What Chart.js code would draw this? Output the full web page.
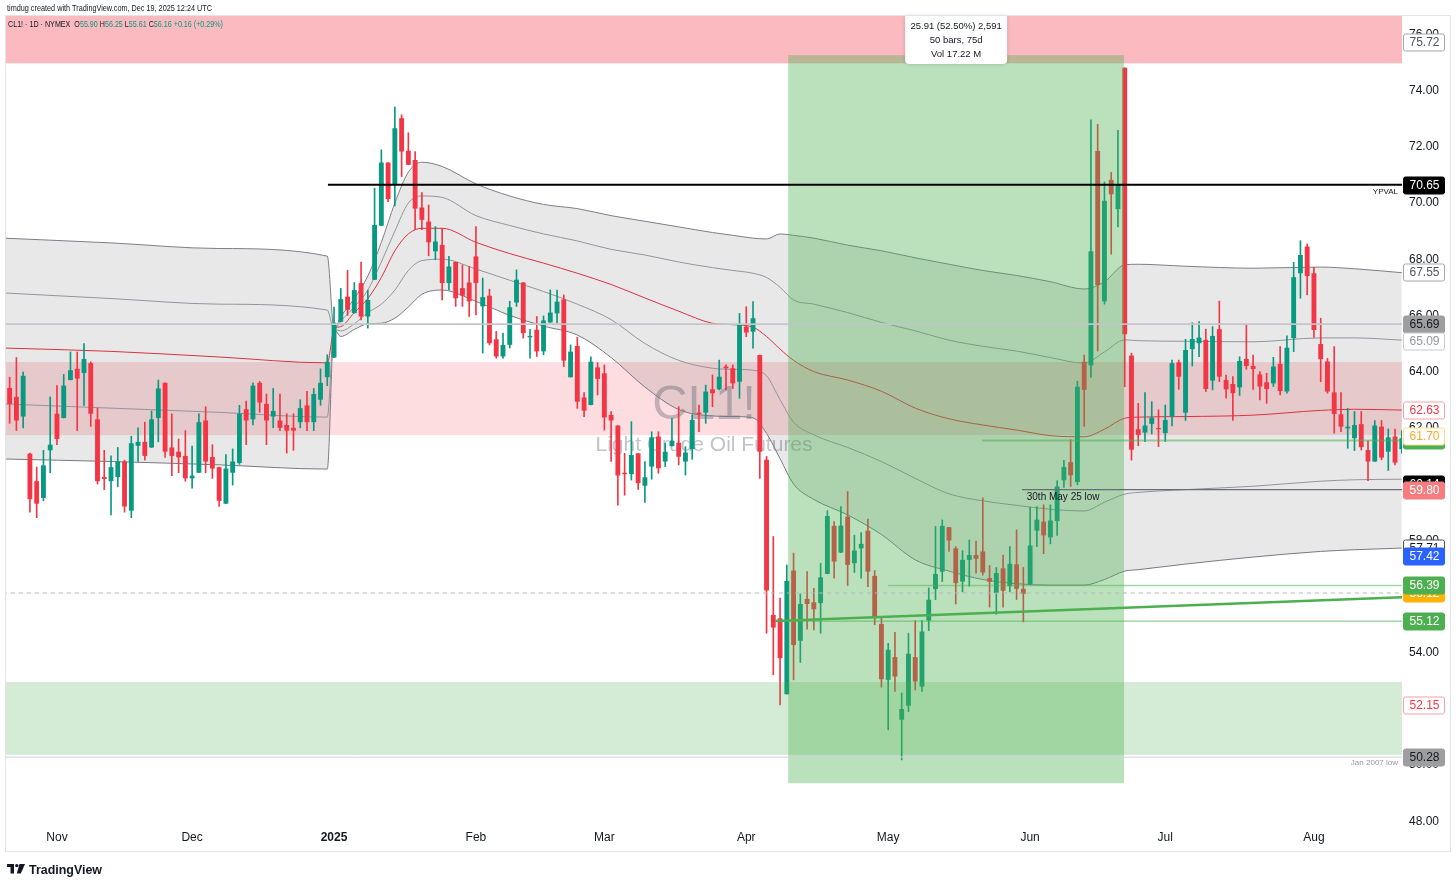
<!DOCTYPE html>
<html>
<head>
<meta charset="utf-8">
<title>CL1! daily</title>
<script src="https://cdn.jsdelivr.net/npm/chart.js@4.4.1/dist/chart.umd.min.js"></script>
<style>
  html, body { margin: 0; padding: 0; background: #fff; overflow: hidden; }
  canvas { display: block; }
</style>
</head>
<body>
<canvas id="chart" width="1456" height="887"></canvas>
<script>
// daily candles, 22 Oct 2024 .. 20 Aug 2025 (index = bar number)
const opens = [
  62.04, 63.42, 63.10, 62.40, 61.08, 60.10, 59.50, 61.20, 62.50, 62.35,
  63.70, 64.10, 63.95, 64.30, 62.30, 60.25, 60.10, 60.25, 60.80, 59.05,
  61.36, 61.50, 61.30, 62.35, 63.60, 61.30, 61.15, 61.00, 60.20, 60.40,
  62.26, 60.96, 60.60, 59.30, 60.40, 60.75, 62.66, 62.30, 63.60, 62.85,
  62.40, 62.26, 62.10, 62.00, 62.20, 62.80, 62.20, 63.00, 63.80, 64.50,
  65.77, 66.67, 66.08, 67.15, 65.96, 67.27, 69.19, 71.44, 70.65, 73.02,
  71.86, 71.53, 69.84, 69.34, 68.28, 68.51, 67.15, 67.90, 66.97, 67.17,
  68.10, 66.32, 66.70, 65.15, 64.54, 64.95, 66.46, 67.17, 65.22, 65.49,
  64.72, 65.75, 66.07, 66.57, 63.80, 64.91, 63.08, 62.81, 64.15, 63.94,
  62.46, 62.08, 60.40, 60.35, 61.09, 59.94, 60.62, 61.69, 60.80, 61.35,
  61.47, 60.80, 61.24, 62.54, 62.54, 63.37, 63.37, 64.18, 64.12, 63.64,
  65.60, 65.42, 64.59, 60.86, 55.34, 55.22, 52.52, 56.92, 54.42, 55.91,
  55.79, 55.76, 56.80, 58.51, 57.56, 58.84, 57.18, 57.71, 58.34, 56.73,
  55.02, 53.03, 53.84, 51.61, 52.11, 53.84, 52.79, 55.14, 56.26, 56.88,
  58.46, 57.71, 56.53, 57.30, 57.47, 57.60, 56.65, 56.12, 57.00, 56.36,
  57.14, 56.27, 56.43, 58.34, 58.66, 58.10, 58.68, 60.13, 60.78, 60.07,
  64.35, 64.22, 71.85, 66.50, 70.82, 69.78, 74.81, 64.57, 61.95, 61.83,
  62.14, 61.99, 61.81, 62.40, 64.33, 62.54, 64.80, 65.01, 65.13, 63.68,
  65.51, 63.70, 63.56, 63.44, 64.45, 64.20, 63.90, 63.62, 63.58, 64.27,
  63.29, 65.19, 67.50, 68.45, 67.50, 64.98, 64.36, 63.26, 62.48, 61.98,
  61.63, 62.13, 61.21, 60.80, 62.04, 61.15, 61.69, 61.24
];
const highs = [
  64.00, 63.80, 64.50, 63.98, 61.10, 60.60, 61.20, 63.10, 63.50, 63.90,
  64.70, 64.70, 65.00, 64.35, 62.70, 61.20, 61.00, 61.30, 60.85, 61.70,
  62.00, 62.20, 62.60, 63.70, 63.60, 62.50, 61.60, 61.90, 61.35, 62.50,
  62.75, 61.40, 60.60, 61.05, 61.25, 62.80, 62.95, 63.60, 63.65, 63.20,
  63.40, 63.20, 62.50, 62.50, 63.00, 63.30, 63.40, 64.10, 64.60, 66.30,
  66.96, 67.60, 67.17, 67.90, 66.90, 70.53, 71.89, 71.44, 73.41, 73.14,
  72.50, 71.83, 70.37, 69.93, 69.16, 69.10, 68.10, 67.90, 67.80, 67.74,
  69.16, 67.33, 66.93, 65.43, 65.37, 66.50, 67.62, 67.17, 65.50, 65.96,
  65.98, 66.91, 66.90, 66.73, 64.95, 65.22, 63.25, 64.53, 64.32, 64.24,
  62.58, 62.08, 61.09, 62.22, 61.09, 60.80, 61.86, 61.86, 61.45, 62.34,
  62.75, 61.33, 62.46, 62.81, 63.52, 63.88, 64.41, 64.24, 64.24, 66.07,
  66.31, 66.49, 64.59, 60.98, 58.13, 55.94, 57.12, 57.54, 56.09, 56.88,
  56.29, 57.18, 59.05, 58.66, 59.20, 59.73, 58.18, 58.27, 58.75, 56.92,
  55.22, 54.33, 54.72, 52.56, 54.69, 55.14, 55.14, 56.30, 58.49, 58.72,
  58.46, 57.77, 57.63, 58.01, 57.97, 59.51, 57.10, 57.03, 57.47, 57.77,
  58.37, 57.03, 59.17, 59.20, 59.26, 59.26, 60.11, 60.84, 61.58, 63.66,
  64.59, 72.96, 72.80, 70.75, 71.09, 72.59, 74.81, 64.66, 62.87, 63.25,
  62.93, 62.64, 62.81, 64.41, 64.41, 65.15, 65.74, 65.78, 65.51, 65.60,
  66.51, 63.88, 63.82, 64.53, 65.68, 64.59, 64.00, 63.94, 64.51, 64.89,
  65.27, 67.89, 68.66, 68.54, 67.71, 65.90, 64.47, 64.89, 63.25, 62.69,
  62.58, 62.58, 61.54, 62.26, 62.26, 61.96, 61.95, 61.90
];
const lows = [
  61.90, 62.16, 61.90, 62.00, 59.00, 58.80, 59.40, 60.40, 61.40, 62.35,
  63.70, 61.90, 62.80, 62.05, 60.00, 59.80, 58.90, 59.90, 59.00, 58.80,
  60.80, 60.85, 61.30, 61.50, 60.95, 60.30, 60.40, 60.10, 59.85, 60.40,
  60.40, 60.20, 59.20, 59.30, 59.96, 60.70, 61.40, 62.10, 62.55, 61.40,
  62.00, 61.90, 61.10, 61.20, 62.00, 61.90, 61.90, 62.80, 63.50, 64.50,
  65.77, 66.00, 66.08, 65.84, 65.55, 67.27, 69.19, 70.05, 69.90, 70.94,
  71.36, 69.05, 69.05, 68.12, 67.98, 66.55, 66.91, 66.32, 66.32, 65.96,
  66.02, 64.66, 64.95, 64.48, 64.48, 64.84, 66.32, 65.19, 64.48, 64.54,
  64.60, 65.75, 65.74, 64.18, 63.80, 62.69, 62.40, 62.81, 63.17, 61.92,
  60.80, 59.25, 59.60, 60.14, 59.81, 59.34, 60.17, 60.38, 60.62, 61.35,
  60.68, 60.32, 60.88, 61.86, 62.16, 62.75, 63.35, 63.35, 63.40, 63.05,
  65.24, 64.83, 60.20, 54.69, 53.21, 52.14, 52.52, 53.03, 53.65, 54.83,
  54.81, 54.69, 56.80, 56.65, 57.56, 56.39, 56.85, 56.65, 56.35, 54.99,
  52.77, 51.25, 52.62, 50.18, 51.90, 52.67, 52.62, 54.78, 55.88, 56.53,
  57.60, 55.73, 56.16, 56.36, 56.83, 56.76, 55.62, 55.36, 55.62, 56.16,
  55.89, 55.09, 56.43, 57.77, 57.52, 57.87, 58.17, 59.88, 59.91, 59.97,
  62.05, 63.79, 64.73, 66.40, 68.18, 69.15, 63.46, 60.85, 61.36, 61.51,
  61.78, 61.33, 61.51, 62.07, 63.37, 62.26, 64.20, 64.53, 63.29, 63.35,
  63.64, 63.05, 62.26, 63.15, 64.08, 63.37, 62.99, 62.87, 63.47, 63.17,
  63.23, 64.71, 66.61, 66.73, 65.22, 63.64, 63.23, 61.81, 61.86, 61.27,
  61.19, 61.21, 60.12, 60.80, 60.86, 60.48, 60.68, 61.10
];
const closes = [
  63.88, 62.85, 62.26, 63.85, 59.46, 59.30, 60.66, 61.40, 61.60, 63.50,
  64.05, 63.75, 64.45, 62.50, 60.10, 60.18, 60.60, 60.80, 59.20, 61.45,
  61.50, 61.00, 62.30, 63.40, 61.15, 61.00, 60.95, 60.20, 60.30, 62.20,
  60.80, 60.55, 59.40, 60.55, 60.80, 62.50, 62.26, 63.50, 62.90, 62.26,
  62.60, 62.00, 61.90, 61.90, 62.70, 62.20, 63.20, 63.60, 64.35, 65.74,
  66.58, 66.20, 66.90, 65.96, 66.55, 69.22, 71.44, 70.14, 72.66, 71.83,
  71.36, 69.80, 69.40, 68.60, 68.63, 67.15, 67.74, 66.61, 66.70, 66.50,
  67.15, 66.65, 65.01, 64.54, 64.95, 66.29, 67.27, 65.37, 65.27, 64.72,
  65.82, 66.10, 66.49, 64.39, 64.71, 62.93, 62.61, 64.35, 63.74, 62.37,
  62.26, 60.30, 60.35, 61.03, 60.03, 60.24, 61.66, 60.56, 61.15, 61.54,
  60.97, 61.12, 62.28, 62.48, 63.29, 63.23, 63.82, 64.12, 63.58, 65.66,
  65.39, 65.90, 61.15, 56.21, 54.89, 53.80, 56.55, 54.27, 55.73, 55.73,
  55.54, 56.68, 58.86, 57.24, 58.52, 57.12, 57.63, 57.87, 56.88, 55.28,
  53.05, 54.10, 53.15, 51.99, 53.96, 52.97, 54.75, 55.88, 56.80, 58.51,
  57.99, 56.47, 57.30, 57.47, 57.34, 56.85, 56.52, 56.83, 56.20, 57.16,
  56.27, 56.09, 57.81, 58.73, 58.17, 58.70, 59.91, 60.60, 60.31, 63.46,
  63.35, 68.28, 67.07, 70.08, 70.31, 70.66, 65.33, 61.22, 61.75, 62.08,
  62.36, 61.95, 62.28, 64.30, 63.82, 64.77, 65.16, 65.21, 63.38, 65.27,
  63.82, 63.37, 63.23, 64.38, 64.20, 64.09, 63.47, 63.38, 64.18, 63.31,
  64.85, 67.36, 68.15, 67.40, 65.48, 64.44, 63.29, 62.49, 62.04, 62.04,
  62.10, 61.31, 60.80, 62.08, 60.94, 61.66, 60.76, 61.63
];

// time axis
const monthStarts = [8, 28, 49, 70, 89, 110, 131, 152, 172, 194];
const monthLabels = ['Nov', 'Dec', '2025', 'Feb', 'Mar', 'Apr', 'May', 'Jun', 'Jul', 'Aug'];
const yTicks = [48, 50, 52, 54, 56, 58, 60, 62, 64, 66, 68, 70, 72, 74, 76];

// anchored VWAP + deviation bands (read at these bars; re-anchored on bar 49)
const bandX = [0, 16, 32, 48, 49, 50, 52, 54, 56, 58, 60, 62, 65, 70, 75, 80, 85, 90, 95, 100, 105,
  108, 111, 113, 115, 117, 120, 125, 130, 135, 140, 145, 150, 155, 160, 163, 166, 168, 175, 185, 195, 200, 207];
const upper2 = [68.75, 68.58, 68.38, 68.11, 65.50, 65.95, 66.60, 67.40, 68.60, 70.00, 71.10, 71.45, 71.30, 70.68, 70.25, 69.95, 69.80, 69.55, 69.35, 69.15, 68.95,
  68.85, 68.75, 68.72, 68.90, 68.85, 68.75, 68.50, 68.30, 68.05, 67.82, 67.60, 67.42, 67.20, 66.94, 67.20, 67.80, 67.82, 67.75, 67.68, 67.72, 67.66, 67.52];
const upper1 = [66.80, 66.60, 66.40, 66.19, 65.50, 65.80, 66.30, 66.90, 67.90, 69.00, 70.00, 70.25, 70.20, 69.55, 69.20, 68.90, 68.65, 68.35, 68.15, 67.90, 67.70,
  67.60, 67.50, 67.35, 67.00, 66.55, 66.40, 66.10, 65.75, 65.45, 65.12, 64.90, 64.73, 64.50, 64.30, 64.70, 65.13, 65.10, 65.08, 65.06, 65.20, 65.20, 65.12];
const vwap = [64.84, 64.72, 64.52, 64.31, 65.50, 65.60, 66.10, 66.60, 67.35, 68.30, 68.90, 69.10, 69.10, 68.60, 68.20, 67.86, 67.50, 67.10, 66.62, 66.15, 65.72,
  65.67, 65.58, 65.25, 64.80, 64.40, 64.00, 63.70, 63.30, 62.70, 62.32, 62.10, 61.92, 61.72, 61.68, 61.95, 62.34, 62.38, 62.40, 62.45, 62.62, 62.66, 62.63];
const lower1 = [62.85, 62.70, 62.55, 62.38, 65.50, 65.45, 65.70, 66.10, 66.40, 66.90, 67.60, 67.95, 68.00, 67.65, 67.25, 66.85, 66.40, 65.85, 65.00, 64.40, 64.12,
  64.08, 64.05, 63.85, 63.00, 62.20, 61.75, 61.30, 60.80, 60.20, 59.65, 59.40, 59.24, 59.10, 59.04, 59.35, 59.64, 59.70, 59.80, 59.92, 60.10, 60.15, 60.17];
const lower2 = [60.89, 60.80, 60.68, 60.53, 65.50, 65.25, 65.50, 65.70, 65.72, 65.90, 66.30, 66.75, 66.90, 66.50, 66.00, 65.62, 65.30, 64.50, 63.45, 62.65, 62.42,
  62.40, 62.35, 61.80, 60.90, 60.00, 59.45, 58.90, 58.20, 57.30, 56.90, 56.60, 56.45, 56.40, 56.40, 56.60, 56.90, 56.95, 57.15, 57.40, 57.60, 57.66, 57.72];

// drawn levels: price and the bar each starts from
const levelPrice = [70.65, 65.69, 56.12, 50.28, 59.80, 61.55, 56.39, 55.12];
const levelFrom = [48.1, 0, 0, 0, 150.8, 144.9, 131, 114.3];
const trendX = [114.3, 207.2];
const trendY = [55.12, 55.97];

// zones: [low, high] in price
const zoneLow = [74.97, 61.74, 50.36];
const zoneHigh = [77.0, 64.34, 52.95];
// date-range measure: bars and prices
const measureBars = [116.2, 165.9];
const measurePrices = [49.35, 75.26];
const measureText = ['25.91 (52.50%) 2,591', '50 bars, 75d', 'Vol 17.22 M'];

// price scale tags (value shown, value where the tag sits)
const tagValues = [75.72, 70.65, 67.55, 65.69, 65.09, 62.63, 61.55, 61.70, 60.14, 59.80, 57.71, 57.42, 56.12, 56.39, 55.12, 52.15, 50.28];
const tagAt = [75.72, 70.65, 67.55, 65.69, 65.09, 62.63, 61.55, 61.70, 60.00, 59.80, 57.71, 57.42, 56.12, 56.39, 55.12, 52.15, 50.28];

const X_MIN = 0.46, X_MAX = 207.03;
const Y_MIN = 47.90, Y_MAX = 76.655;
const FONT = '"Liberation Sans", "DejaVu Sans", sans-serif';
const GREEN = '#089981', RED = '#f23645';

const bodyColors = opens.map((o, i) => closes[i] >= o ? GREEN : RED);
const pts = (xs, ys) => xs.map((v, k) => ({ x: v, y: ys[k] }));

const bandStyle = (data, color, extra) => Object.assign({
  type: 'line', data, borderColor: color, borderWidth: 1, pointRadius: 0,
  cubicInterpolationMode: 'monotone', fill: false, order: 10
}, extra || {});

const levelStyles = [
  { c: '#000000', w: 2 },
  { c: '#c3c5cb', w: 1.6 },
  { c: '#b2b5be', w: 1, dash: [4, 4] },
  { c: '#d1d4dc', w: 1 },
  { c: '#6a6d78', w: 1.2 },
  { c: 'rgba(76,175,80,0.55)', w: 2 },
  { c: 'rgba(76,175,80,0.5)', w: 1.5 },
  { c: 'rgba(76,175,80,0.75)', w: 1 }
];

const levelSets = levelPrice.map((p, k) => ({
  type: 'line',
  data: [{ x: levelFrom[k], y: p }, { x: 210, y: p }],
  borderColor: levelStyles[k].c, borderWidth: levelStyles[k].w,
  borderDash: levelStyles[k].dash || [], pointRadius: 0, order: 2
}));

const BODY_INDEX = 6;

const overlay = {
  id: 'overlay',
  beforeDatasetsDraw(chart) {
    const { ctx, chartArea: a, scales: { y } } = chart;
    ctx.save();
    ctx.beginPath();
    ctx.rect(a.left, a.top, a.right - a.left, a.bottom - a.top);
    ctx.clip();
    const fills = ['rgba(242,54,69,0.34)', 'rgba(242,54,69,0.17)'];
    fills.forEach((c, k) => {
      const y1 = y.getPixelForValue(zoneHigh[k]);
      const y2 = y.getPixelForValue(zoneLow[k]);
      ctx.fillStyle = c;
      ctx.fillRect(a.left, y1, a.right - a.left, y2 - y1);
    });
    // symbol watermark
    const cx = (a.left + a.right) / 2, cy = (a.top + a.bottom) / 2;
    ctx.fillStyle = 'rgba(120,123,134,0.45)';
    ctx.textAlign = 'center';
    ctx.textBaseline = 'middle';
    ctx.font = '49px ' + FONT;
    ctx.fillText('CL1!', cx, cy - 15);
    ctx.font = '21px ' + FONT;
    ctx.fillText('Light Crude Oil Futures', cx, cy + 25);
    ctx.restore();
  },
  afterDatasetDraw(chart, args) {
    if (args.index !== BODY_INDEX) return;
    const { ctx, chartArea: a, scales: { x, y } } = chart;
    ctx.save();
    ctx.beginPath();
    ctx.rect(a.left, a.top, a.right - a.left, a.bottom - a.top);
    ctx.clip();
    const x1 = x.getPixelForValue(measureBars[0]), x2 = x.getPixelForValue(measureBars[1]);
    const y1 = y.getPixelForValue(measurePrices[1]), y2 = y.getPixelForValue(measurePrices[0]);
    ctx.fillStyle = 'rgba(76,175,80,0.38)';
    ctx.fillRect(x1, y1, x2 - x1, y2 - y1);
    const z1 = y.getPixelForValue(zoneHigh[2]), z2 = y.getPixelForValue(zoneLow[2]);
    ctx.fillStyle = 'rgba(76,175,80,0.24)';
    ctx.fillRect(a.left, z1, a.right - a.left, z2 - z1);
    ctx.restore();
  },
  afterDatasetsDraw(chart) {
    const { ctx, chartArea: a, scales: { x, y } } = chart;
    ctx.save();
    ctx.fillStyle = '#131722';
    ctx.textBaseline = 'middle';
    ctx.font = '10px ' + FONT;
    ctx.textAlign = 'left';
    ctx.fillText('30th May 25 low', x.getPixelForValue(151.5), y.getPixelForValue(levelPrice[4]) + 8);
    ctx.font = '8px ' + FONT;
    ctx.textAlign = 'right';
    ctx.fillText('YPVAL', a.right - 4, y.getPixelForValue(levelPrice[0]) + 7);
    ctx.fillStyle = '#9598a1';
    ctx.fillText('Jan 2007 low', a.right - 4, y.getPixelForValue(levelPrice[3]) + 6);

    // measure info box
    const mx = x.getPixelForValue((measureBars[0] + measureBars[1]) / 2);
    const bw = 102, bh = 48;
    ctx.shadowColor = 'rgba(0,0,0,0.18)';
    ctx.shadowBlur = 4;
    ctx.fillStyle = '#ffffff';
    ctx.beginPath();
    ctx.roundRect(mx - bw / 2, a.top, bw, bh, [0, 0, 4, 4]);
    ctx.fill();
    ctx.shadowColor = 'transparent';
    ctx.fillStyle = '#131722';
    ctx.textAlign = 'center';
    ctx.font = '9.5px ' + FONT;
    measureText.forEach((t, k) => ctx.fillText(t, mx, a.top + 10 + k * 14));
    ctx.restore();
  },
  afterDraw(chart) {
    const { ctx, chartArea: a, scales: { y } } = chart;
    ctx.save();
    // price tags
    const tagStyle = [
      ['#ffffff', '#50535e', '#a3a6af'],
      ['#000000', '#ffffff', '#000000'],
      ['#ffffff', '#50535e', '#a3a6af'],
      ['#9e9e9e', '#131722', '#9e9e9e'],
      ['#ffffff', '#9598a1', '#c9cbd1'],
      ['#ffffff', '#f23645', '#f7a1a8'],
      ['#4caf50', '#ffffff', '#4caf50'],
      ['#ffffff', '#f9a825', '#ffe082'],
      ['#000000', '#ffffff', '#000000'],
      ['#f77c80', '#ffffff', '#f77c80'],
      ['#ffffff', '#131722', '#50535e'],
      ['#2962ff', '#ffffff', '#2962ff'],
      ['#ffb300', '#ffffff', '#ffb300'],
      ['#4caf50', '#ffffff', '#4caf50'],
      ['#4caf50', '#ffffff', '#4caf50'],
      ['#ffffff', '#f23645', '#f7a1a8'],
      ['#9e9e9e', '#131722', '#9e9e9e']
    ];
    ctx.font = '12px ' + FONT;
    ctx.textAlign = 'center';
    ctx.textBaseline = 'middle';
    tagValues.forEach((v, k) => {
      const [bg, fg, bd] = tagStyle[k];
      const py = Math.round(y.getPixelForValue(tagAt[k]));
      const left = a.right + 1, w = 41, h = 17;
      ctx.fillStyle = bg;
      ctx.strokeStyle = bd;
      ctx.lineWidth = 1;
      ctx.beginPath();
      ctx.roundRect(left + 0.5, py - h / 2 + 0.5, w, h, 2);
      ctx.fill();
      ctx.stroke();
      ctx.fillStyle = fg;
      ctx.fillText(v.toFixed(2), left + w / 2 + 1, py + 1);
    });

    // frame
    ctx.strokeStyle = '#e0e3eb';
    ctx.lineWidth = 1;
    ctx.strokeRect(5.5, 15.5, 1445, 836);

    // header
    ctx.textAlign = 'left';
    ctx.textBaseline = 'middle';
    ctx.fillStyle = '#131722';
    ctx.font = '9.5px ' + FONT;
    ctx.fillText('timdug created with TradingView.com, Dec 19, 2025 12:24 UTC', 7, 8, 205);
    const parts = [
      ['CL1! \u00b7 1D \u00b7 NYMEX  ', '#131722'], ['O', '#131722'], ['55.90 ', '#089981'],
      ['H', '#131722'], ['56.25 ', '#089981'], ['L', '#131722'], ['55.61 ', '#089981'],
      ['C', '#131722'], ['56.16 ', '#089981'], ['+0.16 (+0.29%)', '#089981']
    ];
    ctx.font = '9px ' + FONT;
    const total = parts.reduce((s, p) => s + ctx.measureText(p[0]).width, 0);
    const sx = Math.min(1, 215 / total);
    ctx.translate(8, 25);
    ctx.scale(sx, 1);
    let cur = 0;
    parts.forEach(([t, c]) => {
      ctx.fillStyle = c;
      ctx.fillText(t, cur, 0);
      cur += ctx.measureText(t).width;
    });
    ctx.setTransform(1, 0, 0, 1, 0, 0);

    // logo
    ctx.fillStyle = '#131722';
    ctx.fillRect(7, 864, 7, 3);
    ctx.fillRect(10.5, 864, 3.5, 9.5);
    ctx.beginPath();
    ctx.arc(16.8, 865.6, 1.7, 0, Math.PI * 2);
    ctx.fill();
    ctx.beginPath();
    ctx.moveTo(19.5, 864);
    ctx.lineTo(25, 864);
    ctx.lineTo(20.8, 873.5);
    ctx.lineTo(16.8, 873.5);
    ctx.closePath();
    ctx.fill();
    ctx.font = 'bold 13.5px ' + FONT;
    ctx.textBaseline = 'alphabetic';
    ctx.fillText('TradingView', 29, 874, 73);
    ctx.restore();
  }
};

new Chart(document.getElementById('chart'), {
  type: 'bar',
  data: {
    datasets: [
      bandStyle(pts(bandX, upper2), '#7c7f88', { fill: { target: 4, above: 'rgba(0,0,0,0.09)', below: 'rgba(0,0,0,0.09)' } }),
      bandStyle(pts(bandX, upper1), '#a0a3ab'),
      bandStyle(pts(bandX, vwap), '#f23645'),
      bandStyle(pts(bandX, lower1), '#a0a3ab'),
      bandStyle(pts(bandX, lower2), '#7c7f88'),
      {
        label: 'wicks',
        data: opens.map((_, i) => ({ x: i, y: [lows[i], highs[i]] })),
        backgroundColor: bodyColors, barThickness: 1, grouped: false, order: 5
      },
      {
        label: 'bodies',
        data: opens.map((o, i) => ({ x: i, y: [o, closes[i]] })),
        backgroundColor: bodyColors, barPercentage: 0.72, categoryPercentage: 1,
        minBarLength: 1, grouped: false, order: 4
      },
      ...levelSets,
      {
        type: 'line', data: pts(trendX, trendY), borderColor: '#4caf50',
        borderWidth: 2.5, pointRadius: 0, order: 1
      }
    ]
  },
  options: {
    responsive: false,
    animation: false,
    events: [],
    layout: { padding: { left: 6, top: 16, right: 6, bottom: 36 } },
    plugins: { legend: { display: false }, tooltip: { enabled: false } },
    scales: {
      x: {
        type: 'linear', min: X_MIN, max: X_MAX, offset: false,
        grid: { display: false, drawTicks: false }, border: { display: false },
        afterBuildTicks: s => { s.ticks = monthStarts.map(v => ({ value: v })); },
        afterFit: s => { s.height = 27; },
        ticks: {
          autoSkip: false, maxRotation: 0, padding: 6, color: '#131722',
          font: c => ({ family: FONT, size: 12, weight: c.tick && c.tick.value === 49 ? 'bold' : 'normal' }),
          callback: v => monthLabels[monthStarts.indexOf(v)]
        }
      },
      y: {
        type: 'linear', position: 'right', min: Y_MIN, max: Y_MAX,
        grid: { display: false, drawTicks: false }, border: { display: false },
        afterBuildTicks: s => { s.ticks = yTicks.map(v => ({ value: v })); },
        afterFit: s => { s.width = 48; },
        ticks: {
          autoSkip: false, padding: 7, color: '#131722',
          font: { family: FONT, size: 12 },
          callback: v => v.toFixed(2)
        }
      }
    }
  },
  plugins: [overlay]
});
</script>
</body>
</html>
